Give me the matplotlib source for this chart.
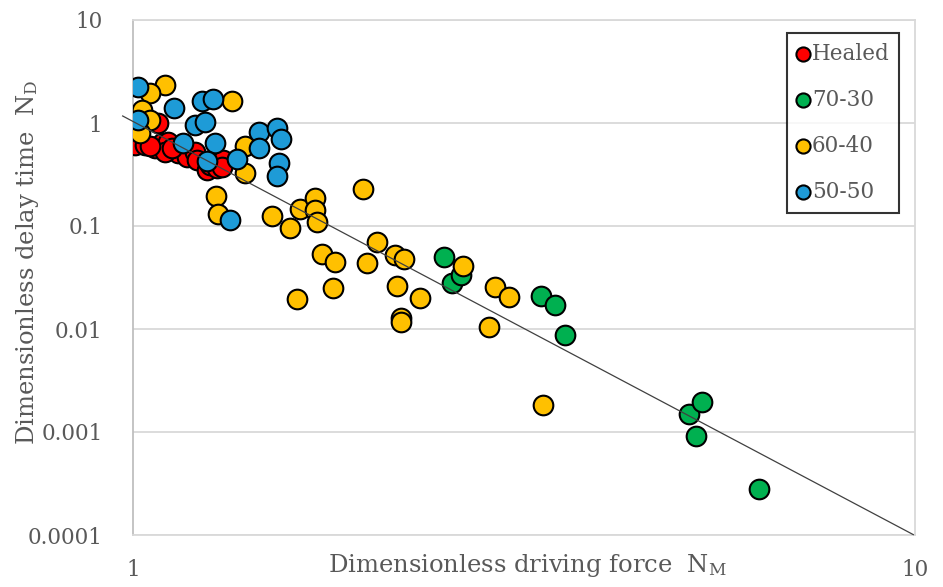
import numpy as np
import matplotlib
matplotlib.use("Agg")
import matplotlib.pyplot as plt

plt.rcParams["font.family"] = ["DejaVu Serif"]
plt.rcParams["mathtext.fontset"] = "dejavuserif"

# Healed
healed_x = [1.000, 1.076, 1.006, 1.036, 1.067, 1.089, 1.109, 1.142, 1.172, 1.200,
            1.207, 1.243, 1.254, 1.281, 1.303, 1.300, 1.099, 1.051, 1.122]
healed_y = [0.855, 1.00, 0.611, 0.611, 0.572, 0.639, 0.654, 0.511, 0.468, 0.523,
            0.437, 0.350, 0.391, 0.366, 0.437, 0.374, 0.523, 0.598, 0.572]

# 70-30
g70_x = [2.50, 2.56, 2.63, 3.32, 3.46, 3.57, 5.14, 5.34, 5.25, 6.32]
g70_y = [0.0500, 0.0280, 0.0334, 0.0209, 0.0171, 0.00875, 0.00150, 0.00196, 0.000915, 0.000280]

# 60-40
g60_x = [1.099, 1.051, 1.339, 1.027, 1.051, 1.021, 1.391, 1.391, 1.277, 1.284,
         1.506, 1.588, 1.635, 1.709, 1.709, 1.719, 1.968, 2.051, 1.745, 1.813,
         1.991, 2.163, 2.222, 1.621, 1.802, 2.176, 2.328, 2.202, 2.202, 2.642,
         2.904, 3.026, 2.853, 3.345]
g60_y = [2.34, 1.96, 1.64, 1.34, 1.07, 0.80, 0.598, 0.327, 0.196, 0.131,
         0.125, 0.0957, 0.146, 0.187, 0.143, 0.109, 0.229, 0.070, 0.0535, 0.0447,
         0.0437, 0.0523, 0.0478, 0.0196, 0.0250, 0.0262, 0.0200, 0.0128, 0.0117, 0.0409,
         0.0256, 0.0205, 0.0105, 0.00183]

# 50-50
g50_x = [1.015, 1.015, 1.128, 1.225, 1.266, 1.200, 1.236, 1.159, 1.273, 1.243,
         1.359, 1.449, 1.449, 1.528, 1.546, 1.537, 1.528, 1.331]
g50_y = [2.24, 1.07, 1.40, 1.64, 1.71, 0.956, 1.02, 0.639, 0.639, 0.428,
         0.447, 0.818, 0.572, 0.894, 0.699, 0.409, 0.306, 0.114]

# power-law trendline y = a * x^b
trend_a, trend_b = 1.035, -4.02
trend_range = (0.97, 9.95)

series = [
    ("Healed", healed_x, healed_y, "#ff0000"),
    ("70-30", g70_x, g70_y, "#00b050"),
    ("60-40", g60_x, g60_y, "#ffc000"),
    ("50-50", g50_x, g50_y, "#1e9bd7"),
]

fig = plt.figure(figsize=(9.43, 5.87), dpi=100)
ax = fig.add_axes([133 / 943, 1 - 535 / 587, (915 - 133) / 943, (535 - 20) / 587])

ax.set_xscale("log")
ax.set_yscale("log")
ax.set_xlim(1, 10)
ax.set_ylim(0.0001, 10)

for i, (name, xs, ys, col) in enumerate(series):
    ax.scatter(xs, ys, s=200, color=col, edgecolors="black", linewidths=1.5,
               label=name, zorder=3 + i)

xt = np.logspace(np.log10(trend_range[0]), np.log10(trend_range[1]), 50)
ax.plot(xt, trend_a * xt ** trend_b, color="#404040", lw=0.9, zorder=10, clip_on=False)

ax.set_xticks([1, 10])
ax.set_xticklabels(["1", "10"])
ax.set_yticks([0.0001, 0.001, 0.01, 0.1, 1, 10])
ax.set_yticklabels(["0.0001", "0.001", "0.01", "0.1", "1", "10"])
ax.minorticks_off()
ax.tick_params(length=0, labelsize=15.5, labelcolor="#595959")
ax.tick_params(axis="x", pad=17)
ax.tick_params(axis="y", pad=22)

ax.yaxis.grid(True, color="#d9d9d9", lw=1.3)
ax.set_axisbelow(True)
for side in ["top", "right", "bottom"]:
    ax.spines[side].set_color("#d9d9d9")
    ax.spines[side].set_linewidth(1.3)
ax.spines["left"].set_color("#bfbfbf")
ax.spines["left"].set_linewidth(1.3)

ax.set_xlabel(r"Dimensionless driving force  N$_\mathregular{M}$", fontsize=17.5, color="#595959")
ax.set_ylabel(r"Dimensionless delay time  N$_\mathregular{D}$", fontsize=17.5, color="#595959")
ax.xaxis.set_label_coords(0.505, -0.033)
ax.yaxis.set_label_coords(-0.118, 0.53)

leg = ax.legend(loc="upper right", bbox_to_anchor=(0.98, 0.975), frameon=True,
                fancybox=False, edgecolor="black", fontsize=15.5, labelcolor="#595959",
                markerscale=0.72, handletextpad=0.1, handlelength=0.6,
                labelspacing=1.12, borderpad=0.45, borderaxespad=0)
leg.get_frame().set_linewidth(1.5)
leg.set_zorder(20)

fig.savefig("out.png", dpi=100)
